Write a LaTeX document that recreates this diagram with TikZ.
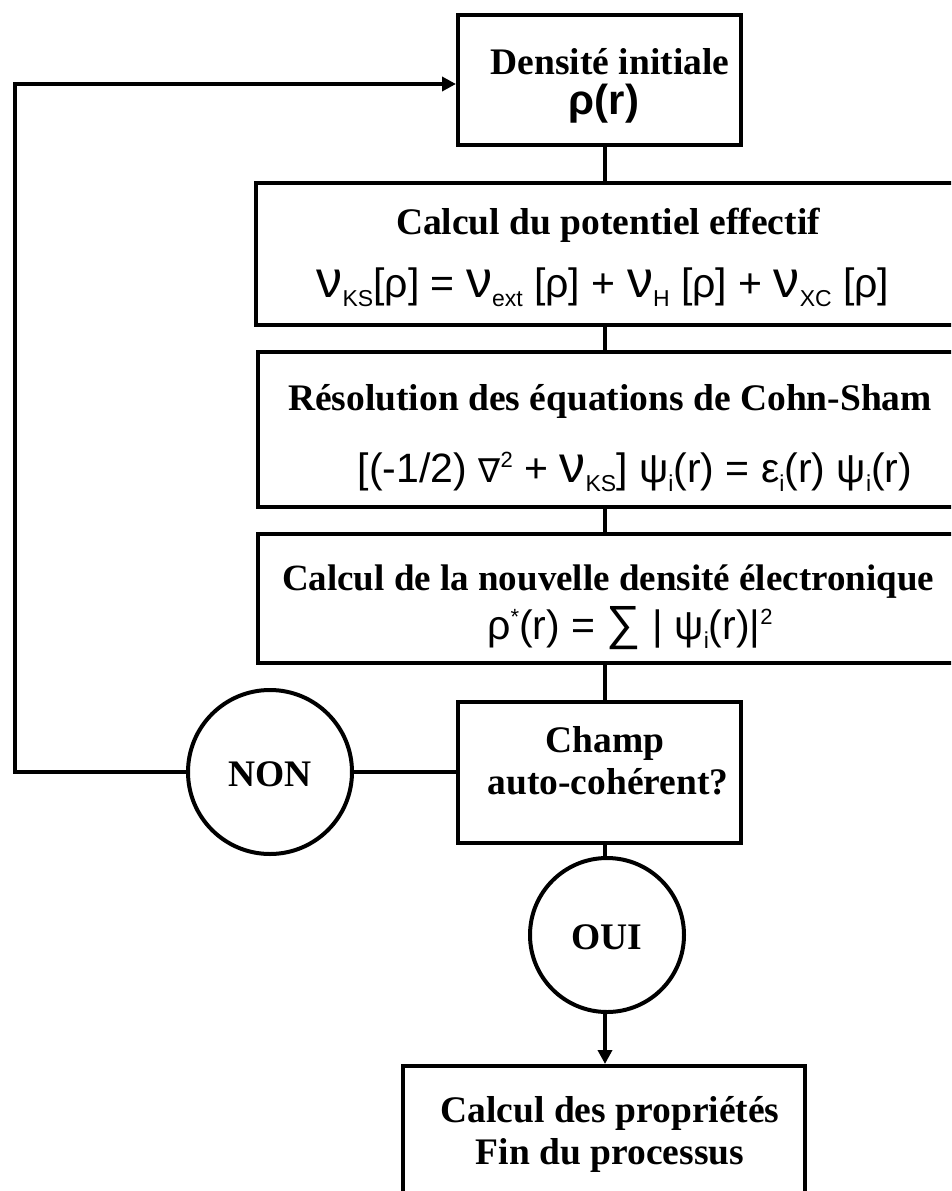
\documentclass[tikz,border=0pt]{standalone}
\usepackage{fontspec}
\usetikzlibrary{arrows.meta}
\setmainfont{Liberation Serif}
\newfontfamily\fsan{Liberation Sans}
\newfontfamily\fdvs{DejaVu Sans}
\newcommand\sbs[1]{\raisebox{-0.22em}{\fontsize{23}{23}\selectfont #1}}
\newcommand\sps[1]{\raisebox{0.36em}{\fontsize{22}{22}\selectfont #1}}
\newcommand\nuu{{\fontsize{52}{52}\selectfont ν}}
\tikzset{
  box/.style={draw, line width=4pt, rectangle, inner sep=0pt},
  ring/.style={draw, line width=4pt, circle, inner sep=0pt},
  ttl/.style={anchor=base, inner sep=0pt, font=\fontsize{37.5}{37.5}\selectfont\bfseries},
  frm/.style={anchor=base, inner sep=0pt, font=\fontsize{41}{41}\selectfont\fsan},
  link/.style={line width=4pt},
  arr/.style={line width=4pt, -{Triangle[length=14pt,width=14pt]}}
}
\begin{document}
\begin{tikzpicture}[x=1pt,y=-1pt]
\useasboundingbox (0,0) rectangle (951,1191);
\clip (0,0) rectangle (951,1191);
% boxes
\node[box, minimum width=283pt, minimum height=130pt] (b1) at (599.5,80) {};
\node[box, minimum width=709pt, minimum height=142pt] (b2) at (610.5,254) {};
\node[box, minimum width=707pt, minimum height=155pt] (b3) at (611.5,429.5) {};
\node[box, minimum width=707pt, minimum height=129pt] (b4) at (611.5,598.5) {};
\node[box, minimum width=283pt, minimum height=141pt] (b5) at (599.5,772) {};
\node[box, minimum width=402pt, minimum height=144pt] (b6) at (604,1138) {};
\node[ring, minimum size=164pt] (non) at (270,772) {};
\node[ring, minimum size=154pt] (oui) at (607,935) {};
% texts
\node[ttl] (t1a) at (610,74) {Densité initiale};
\node[ttl, font=\fontsize{42}{42}\selectfont\fsan\bfseries] (t1b) at (604,114) {ρ(r)};
\node[ttl] (t2a) at (608,234) {Calcul du potentiel effectif};
\node[frm] (t2b) at (603,297) {\nuu\sbs{KS}[ρ] = \nuu\sbs{ext} [ρ] + \nuu\sbs{H} [ρ] + \nuu\sbs{XC} [ρ]};
\node[ttl] (t3a) at (610,410) {Résolution des équations de Cohn-Sham};
\node[frm] (t3b) at (635,482) {[(-1/2) {\fdvs\fontsize{33}{33}\selectfont ∇}\sps{2} + \nuu\sbs{KS}] ψ\sbs{i}(r) = ε\sbs{i}(r) ψ\sbs{i}(r)};
\node[ttl, font=\fontsize{37}{37}\selectfont\bfseries] (t4a) at (608,590) {Calcul de la nouvelle densité électronique};
\node[frm] (t4b) at (630,639) {ρ\sps{*}(r) = {\fontsize{48}{48}\selectfont ∑} | ψ\sbs{i}(r)|\sps{2}};
\node[ttl] (t5a) at (605,752) {Champ};
\node[ttl] (t5b) at (608,794) {auto-cohérent?};
\node[ttl] (tnon) at (270,786) {NON};
\node[ttl] (toui) at (607,949) {OUI};
\node[ttl] (t6a) at (610,1122) {Calcul des propriétés};
\node[ttl] (t6b) at (610,1164) {Fin du processus};
% connectors
\coordinate (sp) at (605,0);
\coordinate (c1) at (15,772);
\coordinate (c2) at (15,84);
\draw[link] (b1.south -| sp) -- (b2.north -| sp);
\draw[link] (b2.south -| sp) -- (b3.north -| sp);
\draw[link] (b3.south -| sp) -- (b4.north -| sp);
\draw[link] (b4.south -| sp) -- (b5.north -| sp);
\draw[link] (b5.south -| sp) -- (oui.north -| sp);
\draw[arr] (oui.south -| sp) -- (b6.north -| sp);
\draw[link] (b5.west) -- (non.east);
\draw[arr] (non.west) -- (c1) -- (c2) -- (c2 -| b1.west);
\end{tikzpicture}
\end{document}
